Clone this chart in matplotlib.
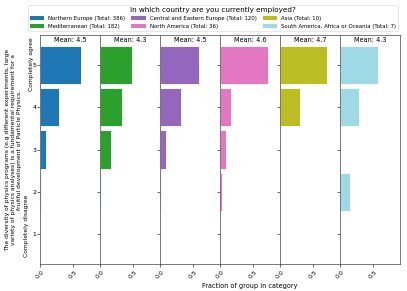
import numpy as np
import matplotlib
matplotlib.use("Agg")
import matplotlib.pyplot as plt
from matplotlib.patches import Patch

# answers 1..5 (Completely disagree .. Completely agree), counts per group
scores = [1, 2, 3, 4, 5]
groups = ["Northern Europe", "Mediterranean", "Central and Eastern Europe",
          "North America", "Asia", "South America, Africa or Oceania"]
northern_europe = [2, 4, 33, 108, 239]
mediterranean = [1, 3, 30, 60, 88]
central_eastern = [0, 2, 10, 37, 71]
north_america = [0, 1, 3, 6, 26]
asia = [0, 0, 0, 3, 7]
south_america_africa_oceania = [0, 1, 0, 2, 4]
counts = [northern_europe, mediterranean, central_eastern,
          north_america, asia, south_america_africa_oceania]

question = ("The diversity of physics programs (e.g different experiments, large\n"
            "variety of physics analyses) is a fundamental requirement for a\n"
            "fruitful development of Particle Physics.")

colors = plt.cm.tab20(np.linspace(0, 1, len(groups)))

fig, axes = plt.subplots(1, len(groups), sharey=True, figsize=(4.07, 2.91), dpi=100)
fig.subplots_adjust(left=40/407, right=400/407, top=1-35/291, bottom=1-264/291, wspace=0)

handles = []
for i, ax in enumerate(axes):
    c = np.array(counts[i], dtype=float)
    total = int(c.sum())
    frac = c / c.sum()
    mean = (np.array(scores) * c).sum() / c.sum()
    ax.barh(scores, frac, height=0.9, color=colors[i], edgecolor='white', linewidth=0.6)
    ax.set_xlim(0, 0.9)
    ax.set_ylim(0.3, 5.7)
    ax.set_xticks([0.0, 0.5])
    ax.set_xticklabels(["0.0", "0.5"], rotation=45, fontsize=4.5)
    ax.set_yticks(scores)
    ax.tick_params(axis='both', length=2, width=0.5, pad=1.5, labelsize=4.5, color='#333333')
    ax.tick_params(axis='y', pad=0.6)
    for s in ax.spines.values():
        s.set_linewidth(0.5)
        s.set_color('#444444')
    ax.text(0.5, 0.99, "Mean: %.1f" % mean, transform=ax.transAxes,
            ha='center', va='top', fontsize=4.7)
    handles.append(Patch(facecolor=colors[i], label="%s (Total: %d)" % (groups[i], total)))

axes[0].set_ylabel(question, fontsize=4.3)
axes[0].yaxis.set_label_coords(-0.3, 0.5)
axes[3].set_xlabel("Fraction of group in category", fontsize=4.7)
axes[3].xaxis.set_label_coords(0.5, -0.085)

fig.text(27/407, 1-257/291, "Completely disagree", rotation=90, ha='center', va='bottom', fontsize=4.3)
fig.text(31/407, 1-37/291, "Completely agree", rotation=90, ha='center', va='top', fontsize=4.3)

leg = fig.legend(handles=handles, loc='upper center', bbox_to_anchor=(213/407, 1-2/291),
                 ncol=3, title="In which country are you currently employed?",
                 fontsize=3.9, title_fontsize=5.2, handlelength=2.6, columnspacing=1.1,
                 labelspacing=0.55, borderpad=0.4, framealpha=1, edgecolor='#dddddd')
leg.get_frame().set_linewidth(0.5)

fig.savefig("out.png", dpi=100)
